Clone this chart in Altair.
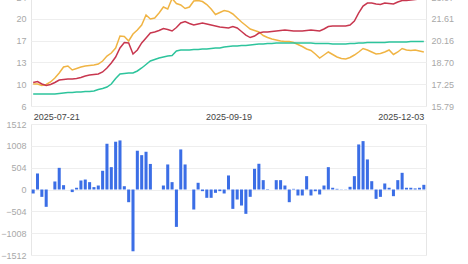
import altair as alt
import pandas as pd

n = 91
idx = list(range(n))
date_ticks = [0, 45, 90]
date_labels = ["2025-07-21", "2025-09-19", "2025-12-03"]
left_ticks = [6.3, 9.78, 13.26, 16.74, 20.22, 23.7]
right_ticks = [15.79, 17.25, 18.70, 20.16, 21.61, 23.07]
bar_ticks = [-1512, -1008, -504, 0, 504, 1008, 1512]

red = [10.05, 10.21, 9.81, 9.57, 9.73, 10.05, 10.45, 10.53, 10.61, 10.61,
       10.69, 10.85, 11.09, 11.25, 11.33, 11.41, 11.73, 12.37, 13.16, 14.12,
       15.56, 16.44, 16.36, 14.60, 15.24, 16.36, 17.15, 17.95, 18.11, 18.35,
       18.67, 18.51, 18.27, 18.83, 19.55, 19.79, 19.47, 19.23, 19.39, 19.55,
       19.39, 19.23, 19.07, 18.91, 18.83, 18.75, 18.99, 18.75, 18.19, 17.63,
       17.23, 17.47, 17.95, 18.11, 18.11, 18.19, 18.27, 18.35, 18.43, 18.35,
       18.27, 18.27, 18.27, 18.35, 18.43, 18.35, 18.27, 18.59, 18.99, 19.07,
       19.07, 19.07, 19.07, 19.23, 19.87, 21.15, 22.26, 22.74, 22.74, 22.58,
       22.50, 22.74, 22.66, 22.58, 22.90, 23.14, 23.14, 23.22, 23.30, 23.38,
       23.46]
orange = [9.81, 9.81, 9.57, 9.73, 10.13, 10.77, 11.57, 12.53, 12.69, 12.05,
          12.29, 12.53, 12.69, 12.77, 12.85, 13.00, 13.48, 14.28, 14.76, 15.56,
          17.47, 17.39, 16.68, 17.79, 18.43, 19.23, 20.83, 20.19, 20.35, 21.15,
          22.10, 21.78, 23.46, 22.66, 22.42, 21.86, 22.10, 23.06, 23.14, 22.98,
          22.50, 21.78, 20.91, 21.23, 21.55, 21.39, 20.99, 20.35, 19.71, 19.15,
          18.59, 18.35, 18.11, 17.55, 17.23, 16.99, 16.84, 16.68, 16.60, 16.60,
          16.44, 16.12, 15.80, 15.40, 15.16, 14.60, 13.96, 14.44, 14.92, 14.52,
          14.12, 13.88, 13.80, 14.04, 14.44, 14.92, 15.48, 15.24, 14.92, 14.60,
          14.68, 14.92, 15.24, 14.52, 14.92, 15.48, 15.24, 15.16, 15.24, 15.08,
          14.92]
green = [8.22, 8.22, 8.22, 8.22, 8.22, 8.22, 8.30, 8.38, 8.45, 8.45,
         8.53, 8.53, 8.61, 8.61, 8.69, 8.93, 9.09, 9.33, 9.81, 10.69,
         11.41, 11.49, 11.57, 11.57, 11.89, 12.37, 12.92, 13.48, 13.72, 13.96,
         14.12, 14.28, 14.36, 15.08, 15.24, 15.24, 15.24, 15.32, 15.32, 15.40,
         15.40, 15.48, 15.56, 15.56, 15.72, 15.80, 15.88, 15.88, 15.96, 15.96,
         16.04, 16.12, 16.20, 16.20, 16.28, 16.28, 16.36, 16.36, 16.36, 16.36,
         16.36, 16.36, 16.36, 16.36, 16.36, 16.28, 16.28, 16.28, 16.28, 16.20,
         16.20, 16.20, 16.20, 16.28, 16.28, 16.36, 16.36, 16.44, 16.44, 16.44,
         16.44, 16.44, 16.52, 16.52, 16.52, 16.52, 16.52, 16.60, 16.60, 16.60,
         16.60]
flow = [-92, 370, -170, -400, 0, 185, 500, 100, 0, -60,
        40, 208, 230, 170, 55, 92, 432, 1056, 516, 1103,
        1133, 76, -293, -1426, 895, 793, 871, 590, 0, 0,
        92, 578, 170, -863, 925, 578, 0, -462, 155, -38,
        -192, -192, -77, -38, -92, 324, -447, -231, -370, -562,
        -169, 478, 594, 216, 10, 0, 216, 216, 92, -293,
        15, -138, -138, 308, -138, -40, -115, 92, 516, 40,
        15, 5, 5, 62, 308, 1040, 1117, 694, 192, -216,
        -170, 139, 40, -154, 216, 385, 40, 40, 25, 40,
        108]

series_names = ["orange", "green", "red"]
series_colors = ["#f0b444", "#2dc49c", "#c8374f"]

lines_df = pd.DataFrame({
    "i": idx * 3,
    "s": ["orange"] * n + ["green"] * n + ["red"] * n,
    "v": orange + green + red,
})
df = pd.DataFrame({"i": idx, "red": red, "flow": flow})

label_expr = " : ".join(
    f"datum.value == {p} ? '{l}'" for p, l in zip(date_ticks[:-1], date_labels[:-1])
) + f" : '{date_labels[-1]}'"

FONT = "Liberation Sans"

x_top = alt.X(
    "i:Q",
    scale=alt.Scale(domain=[-0.5, n - 0.5], nice=False, zero=False),
    axis=alt.Axis(values=date_ticks, labelExpr=label_expr, grid=False, domain=False,
                  ticks=False, labelFlush=6, labelPadding=6, labelFontSize=9,
                  labelColor="#444444", title=None),
)

lines = alt.Chart(lines_df).mark_line(strokeWidth=1.5, clip=True).encode(
    x=x_top,
    y=alt.Y("v:Q", scale=alt.Scale(domain=[6.3, 23.7], nice=False, zero=False),
            axis=alt.Axis(values=left_ticks, format=".0f", title=None, domain=False,
                          ticks=False, labelPadding=5)),
    color=alt.Color("s:N", scale=alt.Scale(domain=series_names, range=series_colors), legend=None),
    order=alt.Order("i:Q"),
)

right = alt.Chart(df).mark_line(opacity=0, clip=True).encode(
    x=x_top,
    y=alt.Y("red:Q", scale=alt.Scale(domain=[15.79, 23.07], nice=False, zero=False),
            axis=alt.Axis(orient="right", values=right_ticks, format=".2f", grid=False,
                          domain=False, ticks=False, labelPadding=5, title=None)),
)

top = alt.layer(lines, right).resolve_scale(y="independent").properties(width=395, height=109)

bars = alt.Chart(df).mark_bar(color="#3b6ee6").encode(
    x=alt.X("i:O", scale=alt.Scale(paddingInner=0.3, paddingOuter=0.15), axis=None),
    y=alt.Y("flow:Q", scale=alt.Scale(domain=[-1512, 1512], nice=False),
            axis=alt.Axis(values=bar_ticks, format="d", title=None, domain=False,
                          ticks=False, labelPadding=5)),
).properties(width=395, height=131)

chart = alt.vconcat(top, bars, spacing=-3).properties(
    padding={"left": 0, "top": -8, "right": 0, "bottom": 0}
).configure_view(stroke="#e6e6e6").configure_axis(
    labelFont=FONT, labelFontSize=9, labelColor="#a8a8a8", gridColor="#eeeeee"
)

chart.save("out.html", embed_options={"renderer": "svg", "actions": False})
